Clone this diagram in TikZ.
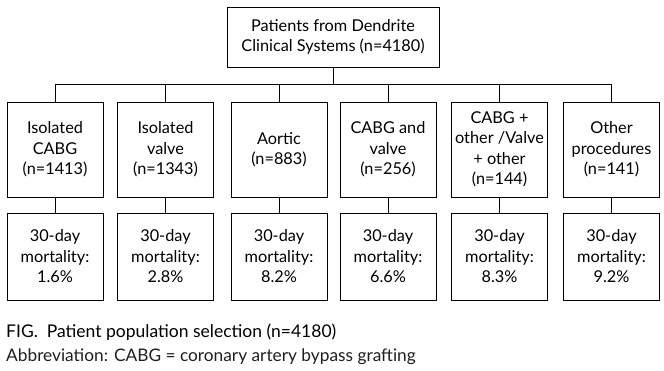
\documentclass[tikz,border=0pt]{standalone}
\usepackage{fontspec}
\setmainfont{Lato}
\begin{document}
\begin{tikzpicture}[x=1pt,y=-1pt]
\tikzstyle{lien}=[line width=1pt]
\tikzset{boite/.style={draw,line width=1pt,align=center,minimum width=96pt,minimum height=#1,inner sep=0pt,font=\fontsize{16.3}{20.5}\selectfont},
boite/.default={95pt}}
\useasboundingbox (0,0) rectangle (664,370);
\node[boite=60pt,minimum width=212pt] (P) at (333,37) {Patients from Dendrite\\Clinical Systems (n=4180)};
\coordinate (bar) at (333,84);

\node[boite] (A1) at (55,149.5) {Isolated\\CABG\\(n=1413)};
\node[boite] (A2) at (165.5,149.5) {Isolated\\valve\\(n=1343)};
\node[boite] (A3) at (279,149.5) {Aortic\\(n=883)};
\node[boite] (A4) at (388,149.5) {CABG and\\valve\\(n=256)};
\node[boite] (A5) at (499.5,149.5) {CABG +\\other /Valve\\+ other\\(n=144)};
\node[boite] (A6) at (611.5,149.5) {Other\\procedures\\(n=141)};

\node[boite=87pt] (M1) at (55,256.5) {30-day\\mortality:\\1.6\%};
\node[boite=87pt] (M2) at (165.5,256.5) {30-day\\mortality:\\2.8\%};
\node[boite=87pt] (M3) at (279,256.5) {30-day\\mortality:\\8.2\%};
\node[boite=87pt] (M4) at (388,256.5) {30-day\\mortality:\\6.6\%};
\node[boite=87pt] (M5) at (499.5,256.5) {30-day\\mortality:\\8.3\%};
\node[boite=87pt] (M6) at (611.5,256.5) {30-day\\mortality:\\9.2\%};

\draw[lien] (P) -- (bar);
\draw[lien] (bar) -| (A1.north);
\draw[lien] (bar) -| (A2.north);
\draw[lien] (bar) -| (A3.north);
\draw[lien] (bar) -| (A4.north);
\draw[lien] (bar) -| (A5.north);
\draw[lien] (bar) -| (A6.north);
\draw[lien] (A1) -- (M1);
\draw[lien] (A2) -- (M2);
\draw[lien] (A3) -- (M3);
\draw[lien] (A4) -- (M4);
\draw[lien] (A5) -- (M5);
\draw[lien] (A6) -- (M6);

\node[anchor=west,inner sep=0pt,font=\fontsize{17.5}{20}\selectfont] (fig) at (6,332) {FIG.\ \ Patient population selection (n=4180)};
\node[anchor=west,inner sep=0pt,font=\fontsize{17.3}{20}\selectfont,text=black!88] (abbr) at (6,357) {Abbreviation: CABG = coronary artery bypass grafting};
\end{tikzpicture}
\end{document}
